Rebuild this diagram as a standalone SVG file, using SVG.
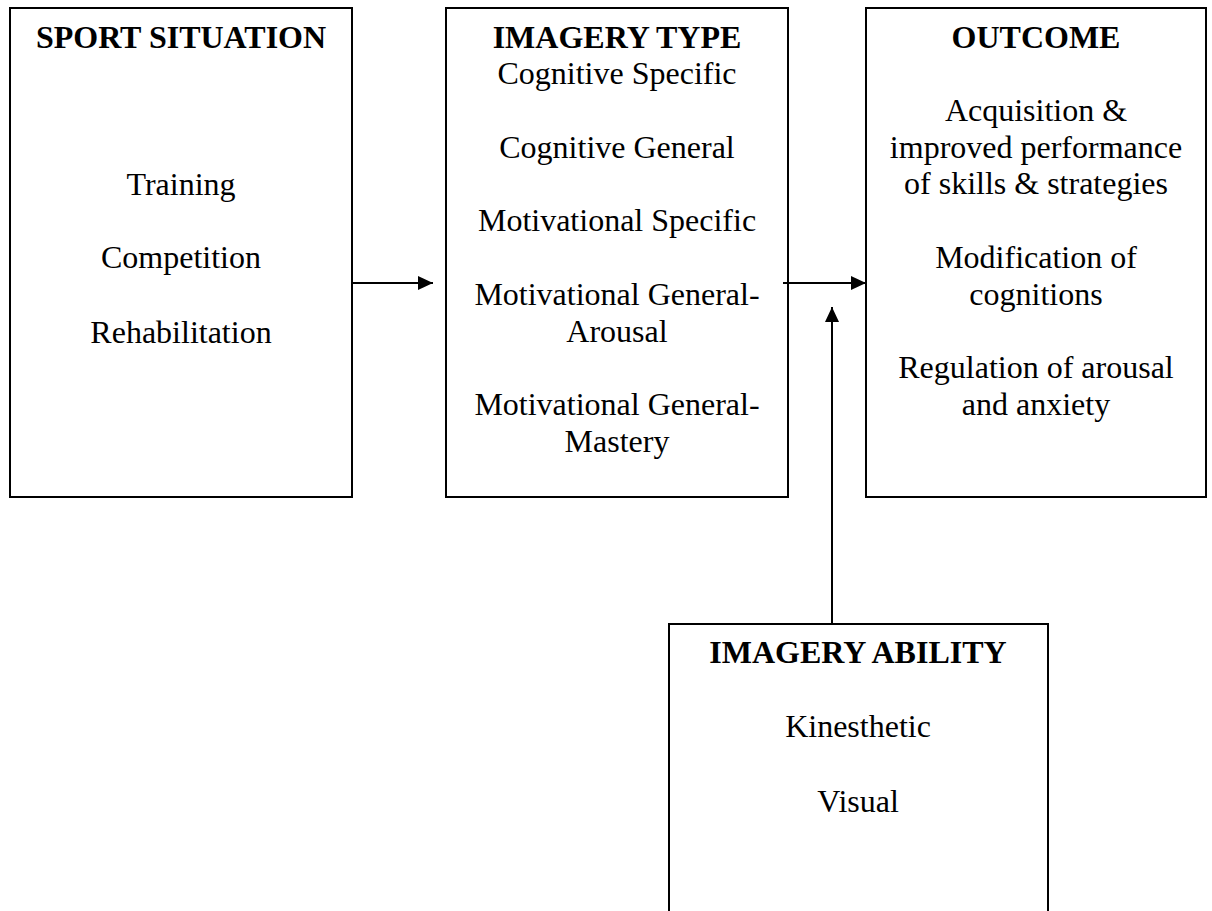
<svg xmlns="http://www.w3.org/2000/svg" width="1212" height="911" viewBox="0 0 1212 911">
<style>
.box{fill:#fff;stroke:#000;stroke-width:2}
.t{font-family:"Liberation Serif","Times New Roman",serif;font-size:32px;fill:#000;text-anchor:middle}
.b{font-weight:bold}
.c{stroke:#000;stroke-width:2;fill:none}
</style>
<defs>
<marker id="ah" markerWidth="15" markerHeight="14" refX="15" refY="7" orient="auto" markerUnits="userSpaceOnUse">
<path d="M0,0 L15,7 L0,14 Z" fill="#000"/>
</marker>
</defs>
<rect width="1212" height="911" fill="#fff"/>
<g id="sport-situation">
<rect class="box" x="10" y="8" width="342" height="489"/>
<text class="t b" x="181" y="48">SPORT SITUATION</text>
<text class="t" x="181" y="195">Training</text>
<text class="t" x="181" y="268">Competition</text>
<text class="t" x="181" y="343">Rehabilitation</text>
</g>
<g id="imagery-type">
<rect class="box" x="446" y="8" width="342" height="489"/>
<text class="t b" x="617" y="48">IMAGERY TYPE</text>
<text class="t" x="617" y="84">Cognitive Specific</text>
<text class="t" x="617" y="158">Cognitive General</text>
<text class="t" x="617" y="231">Motivational Specific</text>
<text class="t" x="617" y="305">Motivational General-</text>
<text class="t" x="617" y="342">Arousal</text>
<text class="t" x="617" y="415">Motivational General-</text>
<text class="t" x="617" y="452">Mastery</text>
</g>
<g id="outcome">
<rect class="box" x="866" y="8" width="340" height="489"/>
<text class="t b" x="1036" y="48">OUTCOME</text>
<text class="t" x="1036" y="121">Acquisition &amp;</text>
<text class="t" x="1036" y="158">improved performance</text>
<text class="t" x="1036" y="194">of skills &amp; strategies</text>
<text class="t" x="1036" y="268">Modification of</text>
<text class="t" x="1036" y="305">cognitions</text>
<text class="t" x="1036" y="378">Regulation of arousal</text>
<text class="t" x="1036" y="415">and anxiety</text>
</g>
<g id="imagery-ability">
<rect class="box" x="669" y="624" width="379" height="300"/>
<text class="t b" x="858" y="663">IMAGERY ABILITY</text>
<text class="t" x="858" y="737">Kinesthetic</text>
<text class="t" x="858" y="812">Visual</text>
</g>
<g id="connectors">
<line class="c" x1="352" y1="283" x2="433" y2="283" marker-end="url(#ah)"/>
<line class="c" x1="783" y1="283" x2="866" y2="283" marker-end="url(#ah)"/>
<line class="c" x1="832" y1="624" x2="832" y2="307" marker-end="url(#ah)"/>
</g>
</svg>
